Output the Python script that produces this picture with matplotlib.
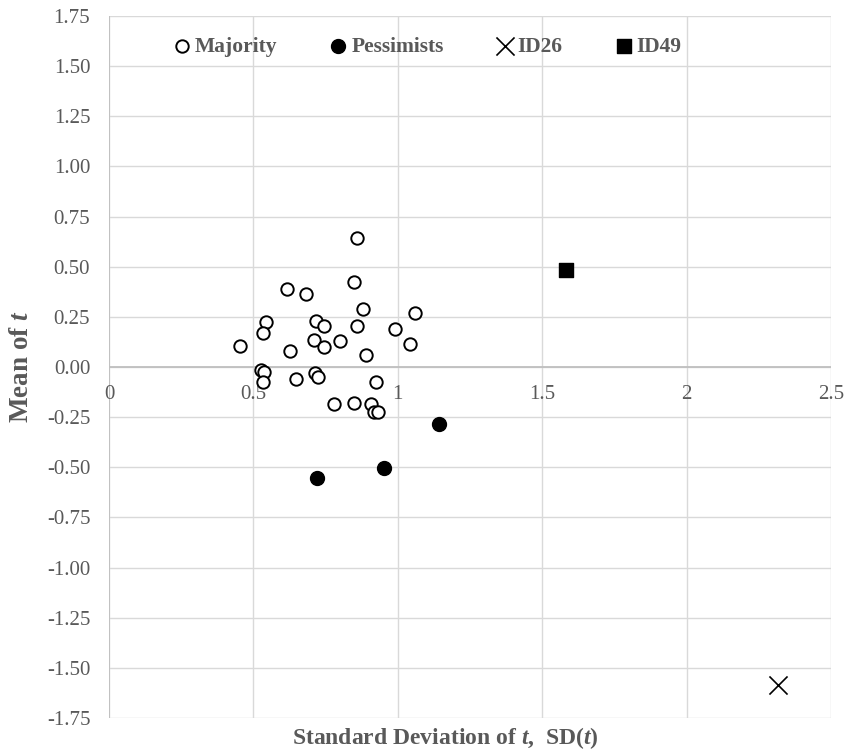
import matplotlib
matplotlib.use('Agg')
import matplotlib.pyplot as plt

# Majority: (SD, mean)
majority_sd = [0.859, 0.850, 0.616, 0.683, 0.878, 1.059, 0.544, 0.717, 0.744, 0.859,
               0.989, 0.532, 0.709, 0.799, 1.042, 0.452, 0.744, 0.627, 0.890, 0.525,
               0.538, 0.715, 0.724, 0.648, 0.532, 0.923, 0.780, 0.848, 0.906, 0.917, 0.933]
majority_mean = [0.641, 0.422, 0.389, 0.365, 0.289, 0.271, 0.226, 0.228, 0.203, 0.206,
                 0.189, 0.168, 0.136, 0.128, 0.113, 0.106, 0.100, 0.081, 0.061, -0.015,
                 -0.025, -0.032, -0.051, -0.061, -0.075, -0.077, -0.184, -0.178, -0.183, -0.224, -0.226]

pessimists_sd = [1.144, 0.952, 0.721]
pessimists_mean = [-0.286, -0.505, -0.552]

id26_sd = [2.315]
id26_mean = [-1.585]

id49_sd = [1.581]
id49_mean = [0.484]

x_ticks = [0, 0.5, 1, 1.5, 2, 2.5]
x_labels = ['0', '0.5', '1', '1.5', '2', '2.5']
y_ticks = [1.75, 1.5, 1.25, 1.0, 0.75, 0.5, 0.25, 0.0, -0.25, -0.5, -0.75, -1.0, -1.25, -1.5, -1.75]

plt.rcParams['font.family'] = ['Liberation Serif', 'DejaVu Serif']
plt.rcParams['mathtext.fontset'] = 'custom'
plt.rcParams['mathtext.rm'] = 'Liberation Serif'
plt.rcParams['mathtext.it'] = 'Liberation Serif:italic:bold'
plt.rcParams['mathtext.bf'] = 'Liberation Serif:bold'
text_color = '#595959'

fig = plt.figure(figsize=(8.44, 7.53), dpi=100)
ax = fig.add_axes([109 / 844, 1 - 718 / 753, 722 / 844, 702 / 753])

ax.set_xlim(0, 2.5)
ax.set_ylim(-1.75, 1.75)

# grid
for x in x_ticks:
    ax.axvline(x, color='#d9d9d9', lw=1, zorder=0)
for y in y_ticks:
    ax.axhline(y, color='#d9d9d9', lw=1, zorder=0)
ax.axhline(0, color='#bfbfbf', lw=1.3, zorder=1)
ax.axvline(0, color='#bfbfbf', lw=1.3, zorder=1)

for s in ax.spines.values():
    s.set_visible(False)

ax.set_xticks([])
ax.set_yticks(y_ticks)
ax.set_yticklabels(['%.2f' % v for v in y_ticks])
ax.tick_params(axis='y', length=0, pad=13.5, labelsize=15, labelcolor=text_color)

# x tick labels sit just below the zero line
for x, lab in zip(x_ticks, x_labels):
    ax.text(x, -0.09, lab, ha='center', va='top', fontsize=15, color=text_color)

ax.scatter(majority_sd, majority_mean, s=80, facecolors='white', edgecolors='black',
           linewidths=1.4, label='Majority', zorder=3)
ax.scatter(pessimists_sd, pessimists_mean, s=100, color='black', label='Pessimists', zorder=3)
ax.scatter(id26_sd, id26_mean, s=170, marker='x', color='black', linewidths=1.2,
           label='ID26', zorder=3)
ax.scatter(id49_sd, id49_mean, s=90, marker='s', color='black', label='ID49', zorder=3)

leg = ax.legend(loc='center', bbox_to_anchor=(0.441, 0.956), ncol=4, frameon=False,
                handletextpad=0.2, columnspacing=2.44, handlelength=0.8,
                prop={'weight': 'bold', 'size': 15.5})
for t in leg.get_texts():
    t.set_color(text_color)

fig.text(445 / 844, 1 - 738 / 753, 'Standard Deviation of $t$,  SD($t$)', ha='center',
         va='center', fontsize=17, fontweight='bold', color=text_color)
fig.text(22 / 844, 1 - 367 / 753, 'Mean of $t$', ha='center', va='center', rotation=90,
         fontsize=19.5, fontweight='bold', color=text_color)

fig.savefig('out.png', dpi=100)
